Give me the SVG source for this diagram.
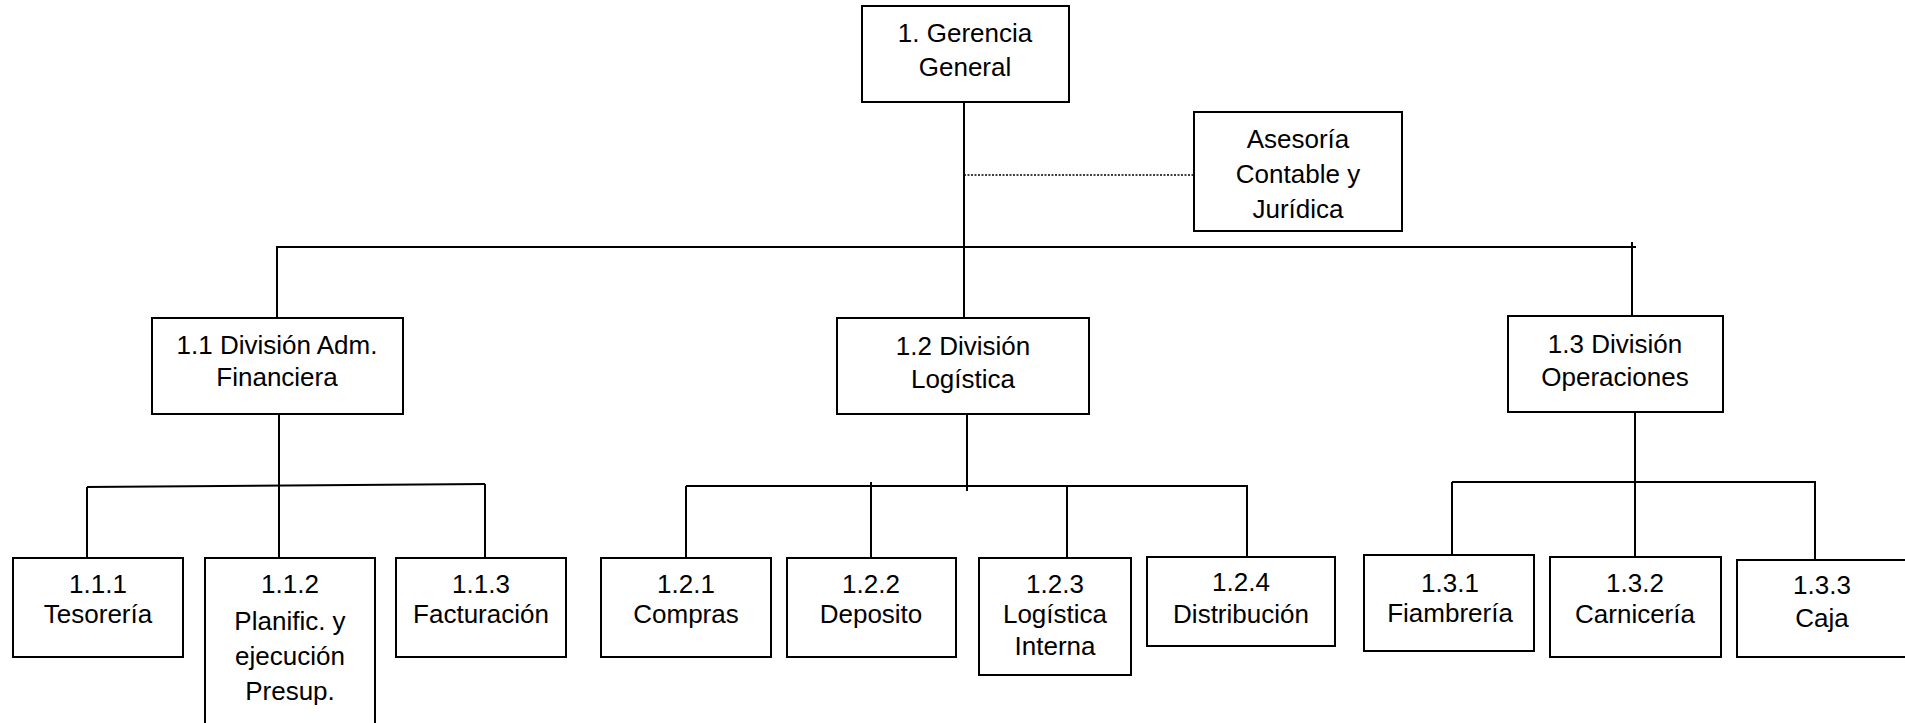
<svg xmlns="http://www.w3.org/2000/svg" width="1905" height="723" viewBox="0 0 1905 723">
<style>
.box{fill:#fff;stroke:#000;stroke-width:2}
.ln{fill:none;stroke:#000;stroke-width:2}
.dot{fill:none;stroke:#000;stroke-width:1.5;stroke-dasharray:2 1.5}
text{font-family:"Liberation Sans",Arial,sans-serif;font-size:26px;fill:#000;text-anchor:middle}
</style>
<rect width="1905" height="723" fill="#fff"/>
<g id="connectors">
<path class="ln" d="M964 102V318"/>
<path class="dot" d="M964 175H1194"/>
<path class="ln" d="M276 247H1636"/>
<path class="ln" d="M277 247V318"/>
<path class="ln" d="M1632 242V316"/>
<path class="ln" d="M279 414V559"/>
<path class="ln" d="M87 487L485 484"/>
<path class="ln" d="M87 487V558"/>
<path class="ln" d="M485 484V558"/>
<path class="ln" d="M967 414V491"/>
<path class="ln" d="M686 486H1248"/>
<path class="ln" d="M686 486V558"/>
<path class="ln" d="M871 482V558"/>
<path class="ln" d="M1067 486V558"/>
<path class="ln" d="M1247 486V557"/>
<path class="ln" d="M1635 412V556"/>
<path class="ln" d="M1452 482H1816"/>
<path class="ln" d="M1452 482V555"/>
<path class="ln" d="M1815 482V560"/>
</g>
<g id="n1">
<rect class="box" x="862" y="6" width="207" height="96"/>
<text x="965" y="42">1. Gerencia</text>
<text x="965" y="76">General</text>
</g>
<g id="asesoria">
<rect class="box" x="1194" y="112" width="208" height="119"/>
<text x="1298" y="148">Asesoría</text>
<text x="1298" y="183">Contable y</text>
<text x="1298" y="218">Jurídica</text>
</g>
<g id="n1_1">
<rect class="box" x="152" y="318" width="251" height="96"/>
<text x="277" y="354">1.1 División Adm.</text>
<text x="277" y="386">Financiera</text>
</g>
<g id="n1_2">
<rect class="box" x="837" y="318" width="252" height="96"/>
<text x="963" y="355">1.2 División</text>
<text x="963" y="388">Logística</text>
</g>
<g id="n1_3">
<rect class="box" x="1508" y="316" width="215" height="96"/>
<text x="1615" y="353">1.3 División</text>
<text x="1615" y="386">Operaciones</text>
</g>
<g id="n1_1_1">
<rect class="box" x="13" y="558" width="170" height="99"/>
<text x="98" y="593">1.1.1</text>
<text x="98" y="623">Tesorería</text>
</g>
<g id="n1_1_2">
<rect class="box" x="205" y="558" width="170" height="170"/>
<text x="290" y="593">1.1.2</text>
<text x="290" y="630">Planific. y</text>
<text x="290" y="665">ejecución</text>
<text x="290" y="700">Presup.</text>
</g>
<g id="n1_1_3">
<rect class="box" x="396" y="558" width="170" height="99"/>
<text x="481" y="593">1.1.3</text>
<text x="481" y="623">Facturación</text>
</g>
<g id="n1_2_1">
<rect class="box" x="601" y="558" width="170" height="99"/>
<text x="686" y="593">1.2.1</text>
<text x="686" y="623">Compras</text>
</g>
<g id="n1_2_2">
<rect class="box" x="787" y="558" width="169" height="99"/>
<text x="871" y="593">1.2.2</text>
<text x="871" y="623">Deposito</text>
</g>
<g id="n1_2_3">
<rect class="box" x="979" y="558" width="152" height="117"/>
<text x="1055" y="593">1.2.3</text>
<text x="1055" y="623">Logística</text>
<text x="1055" y="655">Interna</text>
</g>
<g id="n1_2_4">
<rect class="box" x="1147" y="557" width="188" height="89"/>
<text x="1241" y="591">1.2.4</text>
<text x="1241" y="623">Distribución</text>
</g>
<g id="n1_3_1">
<rect class="box" x="1364" y="555" width="170" height="96"/>
<text x="1450" y="592">1.3.1</text>
<text x="1450" y="622">Fiambrería</text>
</g>
<g id="n1_3_2">
<rect class="box" x="1550" y="557" width="171" height="100"/>
<text x="1635" y="592">1.3.2</text>
<text x="1635" y="623">Carnicería</text>
</g>
<g id="n1_3_3">
<rect class="box" x="1737" y="560" width="172" height="97"/>
<text x="1822" y="594">1.3.3</text>
<text x="1822" y="627">Caja</text>
</g>
</svg>
